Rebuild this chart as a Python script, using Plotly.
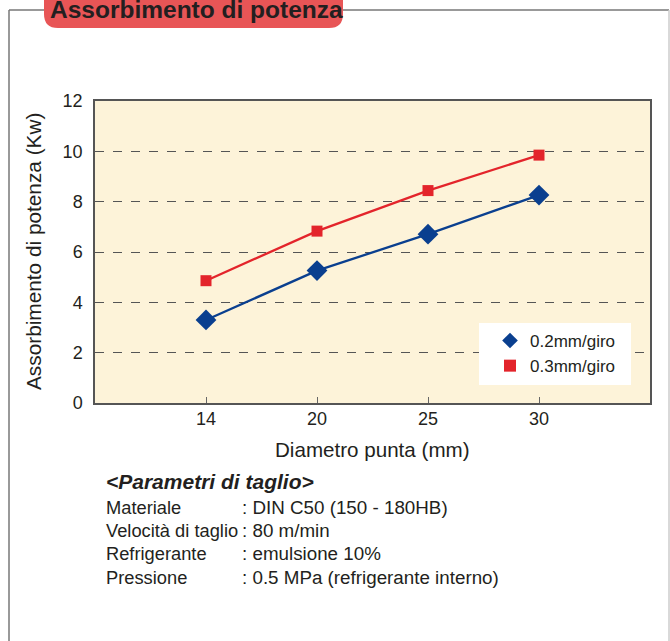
import plotly.graph_objects as go

categories = ["14", "20", "25", "30"]
feed_02 = [3.30, 5.26, 6.71, 8.26]
feed_03 = [4.86, 6.83, 8.44, 9.85]
series_names = ["0.2mm/giro", "0.3mm/giro"]
y_ticks = [0, 2, 4, 6, 8, 10, 12]
param_labels = ["Materiale", "Velocità di taglio", "Refrigerante", "Pressione"]
param_values = [": DIN C50 (150 - 180HB)", ": 80 m/min", ": emulsione 10%", ": 0.5 MPa (refrigerante interno)"]

W, H = 670, 641
def X(px): return px / W
def Y(py): return 1 - py / H

FONT = "Liberation Sans, Arial, sans-serif"
TXT = "#231f20"
BLUE = "#0a3f8f"
RED = "#e3242b"

xs = list(range(len(categories)))
fig = go.Figure()
fig.add_trace(go.Scatter(x=xs, y=feed_02, name=series_names[0], mode="lines+markers", showlegend=False,
                         line=dict(color=BLUE, width=2.3),
                         marker=dict(symbol="diamond", size=16, color=BLUE)))
fig.add_trace(go.Scatter(x=xs, y=feed_03, name=series_names[1], mode="lines+markers", showlegend=False,
                         line=dict(color=RED, width=2.3),
                         marker=dict(symbol="square", size=11, color=RED)))
# legend entries (markers only)
fig.add_trace(go.Scatter(x=[None], y=[None], name=series_names[0], mode="markers",
                         marker=dict(symbol="diamond", size=16, color=BLUE)))
fig.add_trace(go.Scatter(x=[None], y=[None], name=series_names[1], mode="markers",
                         marker=dict(symbol="square", size=11, color=RED)))

plot_l, plot_r, plot_t, plot_b = 95, 650, 101, 403

fig.update_layout(
    width=W, height=H,
    margin=dict(l=0, r=0, t=0, b=0, autoexpand=False),
    paper_bgcolor="white",
    plot_bgcolor="#fdf3d9",
    font=dict(family=FONT, color=TXT, size=18),
    showlegend=True,
    legend=dict(x=X(490), y=Y(323), xanchor="left", yanchor="top",
                bgcolor="rgba(0,0,0,0)", borderwidth=0, font=dict(size=17, color=TXT),
                itemsizing="constant", tracegroupgap=0),
    xaxis=dict(domain=[X(plot_l), X(plot_r)], range=[-1, 4], tickmode="array",
               tickvals=xs, ticktext=categories, ticks="inside", ticklen=6,
               tickcolor="#666", showgrid=False, zeroline=False, automargin=False,
               showline=True, linecolor="#555", linewidth=1.5, mirror=True,
               tickfont=dict(size=18, color=TXT), ticklabelstandoff=-1),
    yaxis=dict(domain=[Y(plot_b), Y(plot_t)], range=[0, 12], tickvals=y_ticks,
               ticks="", showgrid=True, gridcolor="#555", griddash="dash",
               gridwidth=1, zeroline=False, showline=True, linecolor="#555", automargin=False,
               linewidth=1.5, mirror=True, tickfont=dict(size=18, color=TXT),
               ticklabelstandoff=7),
)

shapes = []
shapes.append(dict(type="line", xref="paper", yref="paper", x0=X(9), x1=X(669), y0=Y(10), y1=Y(10),
                   line=dict(color="#777", width=1.5)))
shapes.append(dict(type="line", xref="paper", yref="paper", x0=X(9), x1=X(9), y0=Y(10), y1=Y(641),
                   line=dict(color="#777", width=1.5)))
shapes.append(dict(type="line", xref="paper", yref="paper", x0=X(669), x1=X(669), y0=Y(10), y1=Y(641),
                   line=dict(color="#ccc", width=1.5)))
x0, x1, yt, yb, r = 44, 343, -20, 28, 14
path = (f"M {X(x0+r)},{Y(yt)} L {X(x1-r)},{Y(yt)} Q {X(x1)},{Y(yt)} {X(x1)},{Y(yt+r)} "
        f"L {X(x1)},{Y(yb-r)} Q {X(x1)},{Y(yb)} {X(x1-r)},{Y(yb)} "
        f"L {X(x0+r)},{Y(yb)} Q {X(x0)},{Y(yb)} {X(x0)},{Y(yb-r)} "
        f"L {X(x0)},{Y(yt+r)} Q {X(x0)},{Y(yt)} {X(x0+r)},{Y(yt)} Z")
shapes.append(dict(type="path", xref="paper", yref="paper", path=path,
                   fillcolor="#e85556", line=dict(width=0)))
# legend box
shapes.append(dict(type="rect", xref="paper", yref="paper", x0=X(479), x1=X(631), y0=Y(323), y1=Y(385),
                   fillcolor="white", line=dict(width=0), layer="above"))
fig.update_layout(shapes=shapes)

ann = []
ann.append(dict(text="<b>Assorbimento di potenza</b>", x=X(48), y=Y(9), xref="paper", yref="paper",
                xanchor="left", yanchor="middle", showarrow=False,
                font=dict(size=24.5, color="#231f20", family=FONT)))
ann.append(dict(text="Assorbimento di potenza (Kw)", x=X(34), y=Y(252), xref="paper", yref="paper",
                xanchor="center", yanchor="middle",
                textangle=-90, showarrow=False, font=dict(size=20.8, color=TXT)))
ann.append(dict(text="Diametro punta (mm)", x=X(372), y=Y(450), xref="paper", yref="paper",
                xanchor="center", yanchor="middle",
                showarrow=False, font=dict(size=20.6, color=TXT)))
ann.append(dict(text="<b><i>&lt;Parametri di taglio&gt;</i></b>", x=X(104), y=Y(481), xref="paper", yref="paper",
                xanchor="left", yanchor="middle", showarrow=False, font=dict(size=21, color=TXT)))
for i, (lab, val) in enumerate(zip(param_labels, param_values)):
    yy = 507 + i * 23.4
    ann.append(dict(text=lab, x=X(104), y=Y(yy), xref="paper", yref="paper", xanchor="left",
                    yanchor="middle", showarrow=False, font=dict(size=18.3, color=TXT)))
    ann.append(dict(text=val, x=X(240), y=Y(yy), xref="paper", yref="paper", xanchor="left",
                    yanchor="middle", showarrow=False, font=dict(size=18.8, color=TXT)))
fig.update_layout(annotations=ann)

fig.write_html("out.html", config={"displayModeBar": False},
               post_script="document.body.style.margin='0';document.body.style.overflow='hidden';")
